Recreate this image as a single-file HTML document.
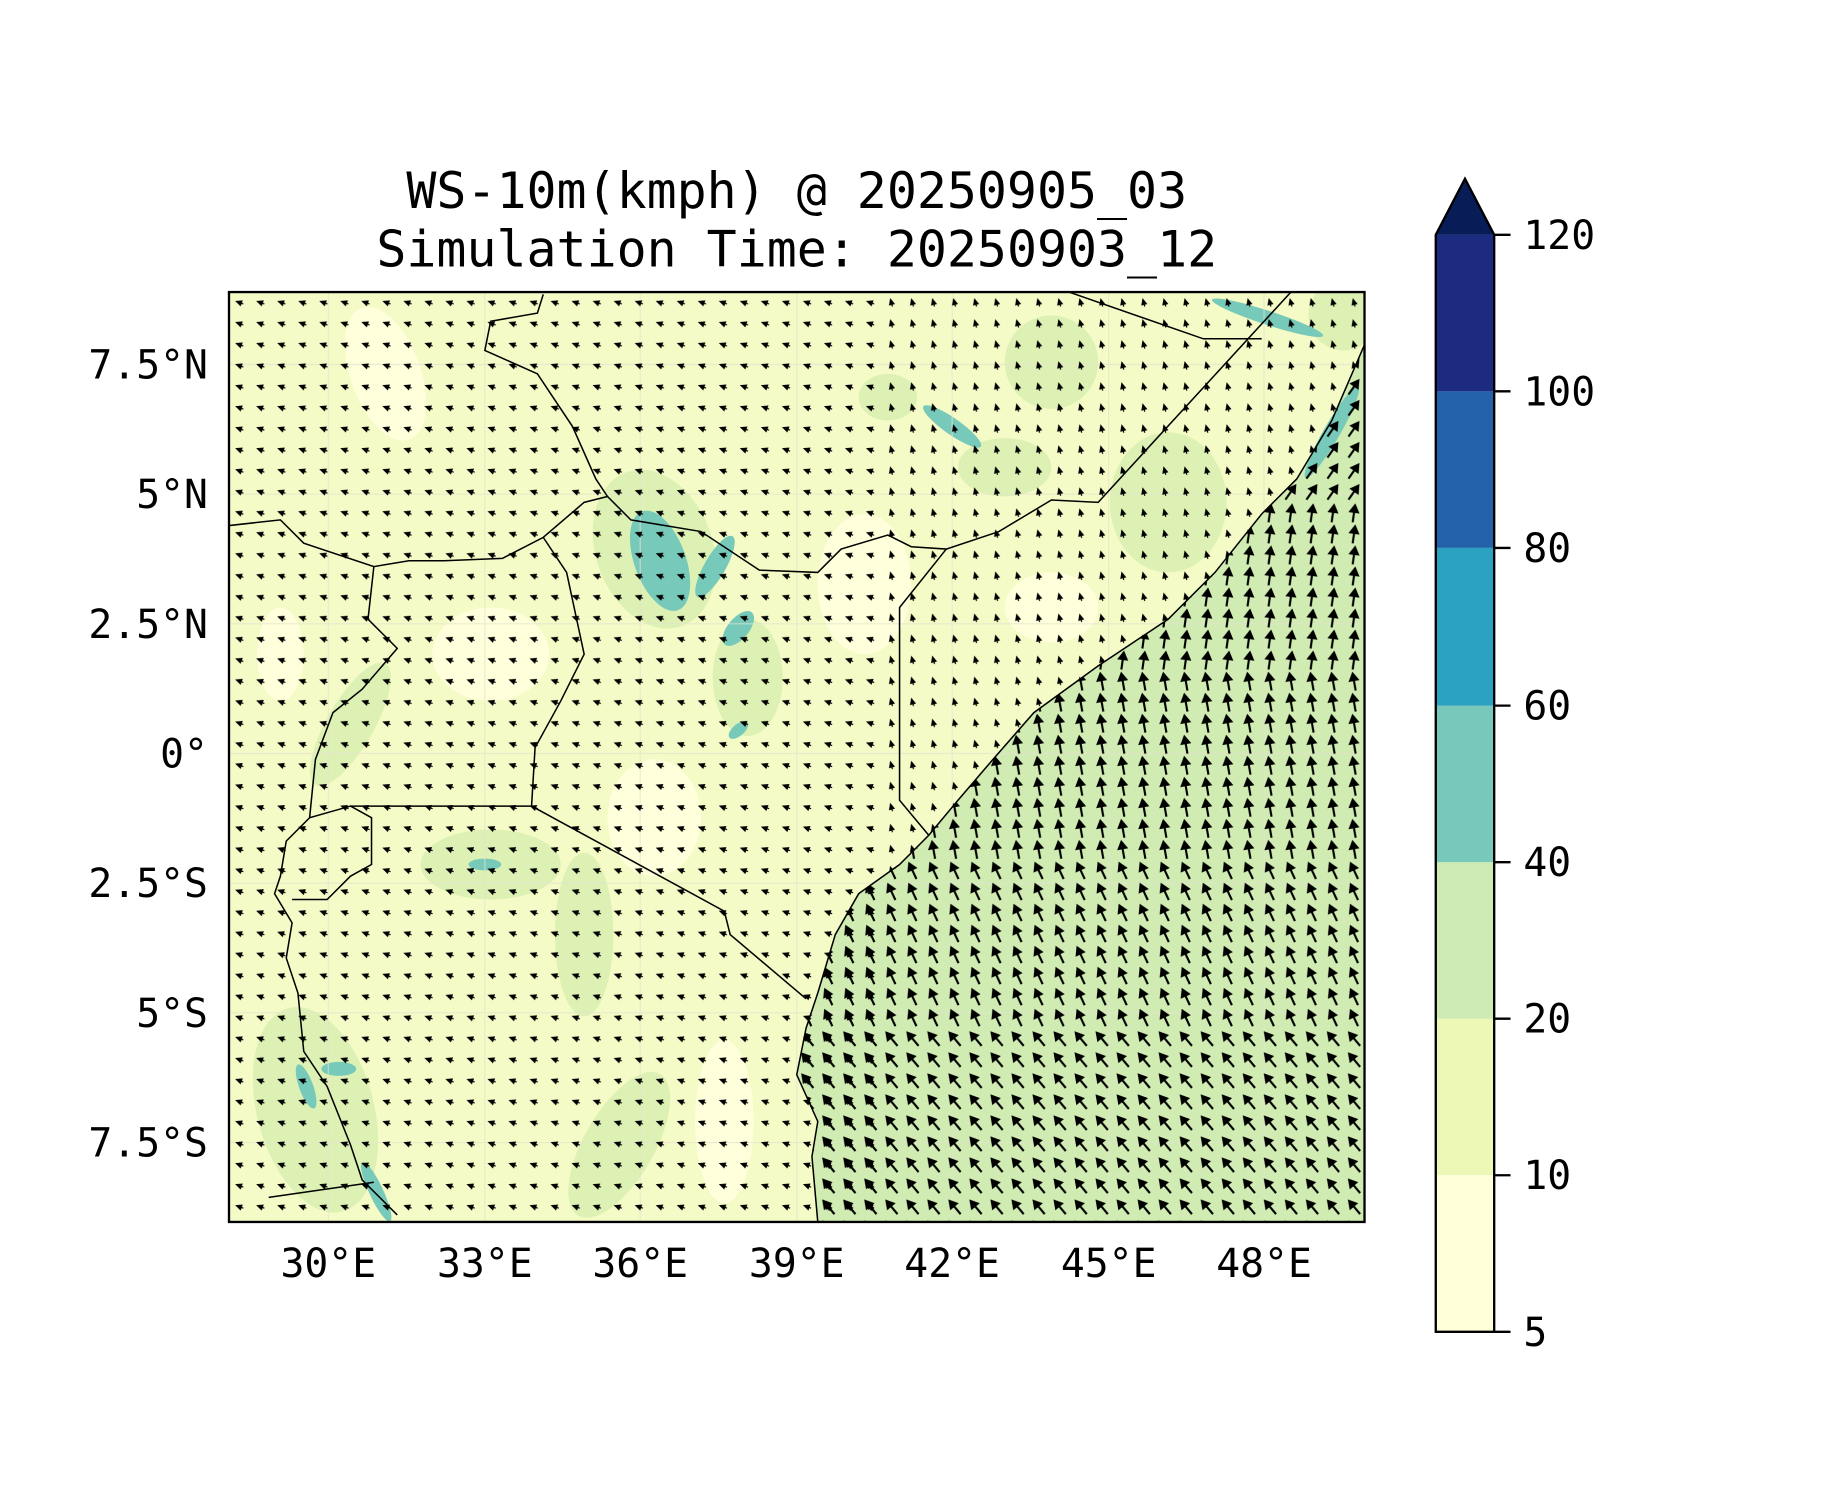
<!DOCTYPE html>
<html><head><meta charset="utf-8"><style>html,body{margin:0;padding:0;background:#fff}svg{display:block}</style></head>
<body>
<svg width="1833" height="1500" viewBox="0 0 1569 1284" xmlns="http://www.w3.org/2000/svg" font-family="'DejaVu Sans Mono','Liberation Mono',monospace">
<defs>
<clipPath id="c"><rect x="196" y="250" width="972" height="796"/></clipPath>
<clipPath id="oc"><polygon points="1168,295 1168,1046 700,1046 695,990 700,960 682,920 690,880 700,850 715,800 735,765 770,740 795,715 820,685 850,650 885,610 940,570 1000,530 1040,490 1080,440 1110,410 1140,360"/></clipPath>
<g id="la"><polygon points="5,9 11,6.3 11,11.7" fill="#000"/><rect x="10" y="8.5" width="2.5" height="1" fill="#000"/></g>
<g id="oa"><polygon points="9,0.8 4.2,9 13.8,9" fill="#000"/><rect x="8.1" y="8" width="1.8" height="9.2" fill="#000"/></g>
<pattern id="land" x="196" y="250" width="18" height="18" patternUnits="userSpaceOnUse"><use href="#la" transform="rotate(20 9 9)"/></pattern>
<pattern id="landN" x="196" y="250" width="18" height="18" patternUnits="userSpaceOnUse"><use href="#la" transform="rotate(75 9 9)"/></pattern>
<pattern id="o1" x="196" y="250" width="18" height="18" patternUnits="userSpaceOnUse"><use href="#oa" transform="rotate(-40 9 9)"/></pattern>
<pattern id="o2" x="196" y="250" width="18" height="18" patternUnits="userSpaceOnUse"><use href="#oa" transform="rotate(-25 9 9)"/></pattern>
<pattern id="o3" x="196" y="250" width="18" height="18" patternUnits="userSpaceOnUse"><use href="#oa" transform="rotate(-10 9 9)"/></pattern>
<pattern id="o4" x="196" y="250" width="18" height="18" patternUnits="userSpaceOnUse"><use href="#oa" transform="rotate(8 9 9)"/></pattern>
<pattern id="o5" x="196" y="250" width="18" height="18" patternUnits="userSpaceOnUse"><use href="#oa" transform="rotate(35 9 9)"/></pattern>
</defs>
<rect width="1569" height="1284" fill="#fff"/>
<g clip-path="url(#c)">
<rect x="196" y="250" width="972" height="796" fill="#f5fbc6"/>
<g fill="#ffffdc">
<ellipse cx="330" cy="320" rx="30" ry="60" transform="rotate(-20 330 320)"/>
<ellipse cx="240" cy="560" rx="20" ry="40"/>
<ellipse cx="620" cy="960" rx="25" ry="70"/>
<ellipse cx="740" cy="500" rx="40" ry="60"/>
<ellipse cx="900" cy="520" rx="40" ry="30"/>
<ellipse cx="560" cy="700" rx="40" ry="50"/>
<ellipse cx="420" cy="560" rx="50" ry="40"/>
</g>
<g fill="#ddf1b4">
<ellipse cx="900" cy="310" rx="40" ry="40"/>
<ellipse cx="1000" cy="430" rx="50" ry="60"/>
<ellipse cx="860" cy="400" rx="40" ry="25"/>
<ellipse cx="560" cy="470" rx="50" ry="70" transform="rotate(-20 560 470)"/>
<ellipse cx="270" cy="950" rx="50" ry="90" transform="rotate(-15 270 950)"/>
<ellipse cx="420" cy="740" rx="60" ry="30"/>
<ellipse cx="500" cy="800" rx="25" ry="70"/>
<ellipse cx="530" cy="980" rx="30" ry="70" transform="rotate(30 530 980)"/>
<ellipse cx="640" cy="580" rx="30" ry="50"/>
<ellipse cx="300" cy="620" rx="20" ry="60" transform="rotate(30 300 620)"/>
<ellipse cx="760" cy="340" rx="25" ry="20"/>
<ellipse cx="1150" cy="270" rx="30" ry="30"/>
</g>
<polygon fill="#d0ecb2" points="1168,295 1168,1046 700,1046 695,990 700,960 682,920 690,880 700,850 715,800 735,765 770,740 795,715 820,685 850,650 885,610 940,570 1000,530 1040,490 1080,440 1110,410 1140,360"/>
<g fill="#77c9b9">
<ellipse cx="565" cy="480" rx="22" ry="45" transform="rotate(-20 565 480)"/>
<ellipse cx="612" cy="485" rx="9" ry="30" transform="rotate(30 612 485)"/>
<ellipse cx="632" cy="538" rx="9" ry="18" transform="rotate(40 632 538)"/>
<ellipse cx="815" cy="365" rx="30" ry="7" transform="rotate(35 815 365)"/>
<ellipse cx="1085" cy="272" rx="50" ry="6" transform="rotate(18 1085 272)"/>
<ellipse cx="1140" cy="370" rx="7" ry="45" transform="rotate(30 1140 370)"/>
<ellipse cx="290" cy="915" rx="15" ry="6"/>
<ellipse cx="262" cy="930" rx="6" ry="20" transform="rotate(-20 262 930)"/>
<ellipse cx="322" cy="1020" rx="6" ry="28" transform="rotate(-25 322 1020)"/>
<ellipse cx="415" cy="740" rx="14" ry="5"/>
<ellipse cx="632" cy="625" rx="10" ry="5" transform="rotate(-40 632 625)"/>
</g>
<g stroke="#e3e3d0" stroke-width="1" opacity="0.7">
<line x1="281" y1="250" x2="281" y2="1046"/><line x1="415" y1="250" x2="415" y2="1046"/><line x1="548" y1="250" x2="548" y2="1046"/><line x1="682" y1="250" x2="682" y2="1046"/><line x1="815" y1="250" x2="815" y2="1046"/><line x1="949" y1="250" x2="949" y2="1046"/><line x1="1082" y1="250" x2="1082" y2="1046"/>
<line x1="196" y1="312" x2="1168" y2="312"/><line x1="196" y1="423" x2="1168" y2="423"/><line x1="196" y1="534" x2="1168" y2="534"/><line x1="196" y1="645" x2="1168" y2="645"/><line x1="196" y1="756" x2="1168" y2="756"/><line x1="196" y1="867" x2="1168" y2="867"/><line x1="196" y1="978" x2="1168" y2="978"/>
</g>
<rect x="196" y="250" width="560" height="796" fill="url(#land)"/>
<polygon points="756,250 1168,250 1168,295 1140,360 1110,410 1080,440 1040,490 1000,530 940,570 885,610 850,650 820,685 795,715 770,740 735,765 715,800 700,850 690,880 682,920 700,960 695,990 700,1046 756,1046" fill="url(#landN)"/>
<g clip-path="url(#oc)">
<rect x="600" y="880" width="600" height="170" fill="url(#o1)"/>
<rect x="600" y="736" width="600" height="144" fill="url(#o2)"/>
<rect x="600" y="574" width="600" height="162" fill="url(#o3)"/>
<rect x="600" y="430" width="600" height="144" fill="url(#o4)"/>
<rect x="600" y="250" width="600" height="180" fill="url(#o5)"/>
</g>
<g fill="none" stroke="#000" stroke-width="1.3">
<polyline points="1168,295 1140,360 1110,410 1080,440 1040,490 1000,530 940,570 885,610 850,650 820,685 795,715 770,740 735,765 715,800 700,850 690,880 682,920 700,960 695,990 700,1046"/>
<polyline points="455,690 620,780 625,800 690,855"/>
<polyline points="795,715 770,685 770,520 810,470"/>
<polyline points="455,690 458,640 480,600 500,560 485,490 465,460"/>
<polyline points="195,450 240,445 260,465 320,485 350,480 380,480 430,478 465,460 500,430 520,425 540,445 600,455 650,488 700,490 720,470 760,458 780,468 810,470 855,455 900,428 940,430 1105,250"/>
<polyline points="465,252 460,268 420,275 415,300 460,320 490,365 510,410 520,425"/>
<polyline points="915,250 1030,290 1080,290"/>
<polyline points="320,485 315,530 340,555 310,590 285,610 270,650 265,700 300,690 455,690"/>
<polyline points="265,700 245,720 240,750 235,765 250,790 245,820 255,850 260,900 280,930 300,980 310,1010 340,1040"/>
<polyline points="300,690 318,700 318,740 300,750 280,770 250,770"/>
<polyline points="230,1025 320,1012"/>
</g>
</g>
<rect x="196" y="250" width="972" height="796" fill="none" stroke="#000" stroke-width="2"/>
<g font-size="42.7" text-anchor="middle" fill="#000">
<text x="682" y="178">WS-10m(kmph) @ 20250905_03</text>
<text x="682" y="228">Simulation Time: 20250903_12</text>
</g>
<g font-size="34" text-anchor="end" fill="#000">
<text x="178" y="324">7.5°N</text><text x="178" y="435">5°N</text><text x="178" y="546">2.5°N</text><text x="178" y="657">0°</text><text x="178" y="768">2.5°S</text><text x="178" y="879">5°S</text><text x="178" y="990">7.5°S</text>
</g>
<g font-size="34" text-anchor="middle" fill="#000">
<text x="281" y="1093">30°E</text><text x="415" y="1093">33°E</text><text x="548" y="1093">36°E</text><text x="682" y="1093">39°E</text><text x="815" y="1093">42°E</text><text x="949" y="1093">45°E</text><text x="1082" y="1093">48°E</text>
</g>
<g>
<rect x="1229" y="1006" width="50" height="134" fill="#ffffd9"/>
<rect x="1229" y="872" width="50" height="134" fill="#eef8b6"/>
<rect x="1229" y="738" width="50" height="134" fill="#cdebb2"/>
<rect x="1229" y="604" width="50" height="134" fill="#78c8bb"/>
<rect x="1229" y="469" width="50" height="135" fill="#2ca2c3"/>
<rect x="1229" y="335" width="50" height="134" fill="#2362ab"/>
<rect x="1229" y="201" width="50" height="134" fill="#1c2b7f"/>
<polygon points="1229,201 1254,153 1279,201" fill="#081d58"/>
<polygon points="1229,201 1254,153 1279,201 1279,1140 1229,1140" fill="none" stroke="#000" stroke-width="2"/>
<g stroke="#000" stroke-width="2">
<line x1="1279" y1="201" x2="1293" y2="201"/><line x1="1279" y1="335" x2="1293" y2="335"/><line x1="1279" y1="469" x2="1293" y2="469"/><line x1="1279" y1="604" x2="1293" y2="604"/><line x1="1279" y1="738" x2="1293" y2="738"/><line x1="1279" y1="872" x2="1293" y2="872"/><line x1="1279" y1="1006" x2="1293" y2="1006"/><line x1="1279" y1="1140" x2="1293" y2="1140"/>
</g>
<g font-size="34" fill="#000">
<text x="1304" y="213">120</text><text x="1304" y="347">100</text><text x="1304" y="481">80</text><text x="1304" y="616">60</text><text x="1304" y="750">40</text><text x="1304" y="884">20</text><text x="1304" y="1018">10</text><text x="1304" y="1152">5</text>
</g>
</g>
</svg>
</body></html>
